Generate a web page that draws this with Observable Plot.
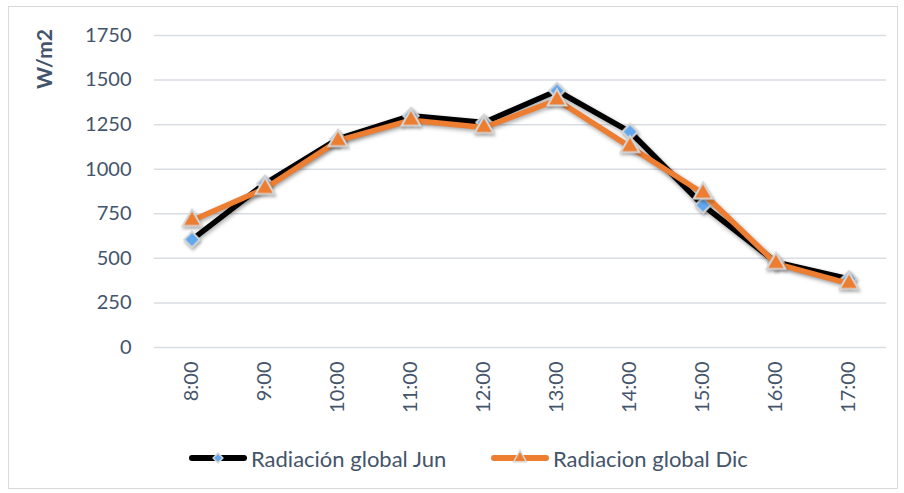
<!DOCTYPE html>
<html>
<head>
<meta charset="utf-8">
<script src="https://cdn.jsdelivr.net/npm/d3@7"></script>
<script src="https://cdn.jsdelivr.net/npm/@observablehq/plot@0.6"></script>
<style>
  html, body { margin: 0; padding: 0; background: #fff; }
  #wrap { position: relative; width: 904px; height: 493px; overflow: hidden; font-family: Lato, "Open Sans", sans-serif; }
  #frame { position: absolute; left: 8px; top: 6px; width: 890px; height: 483px; border: 1.5px solid #d9d9d9; box-sizing: border-box; }
  #chart { position: absolute; left: 0; top: 0; }
  #legend { position: absolute; top: 445px; left: 0; width: 904px; height: 26px; color: #44546a; font-size: 22px; }
  .item { position: absolute; top: 0; display: flex; align-items: center; height: 26px; }
  .item svg { margin-right: 3px; }
</style>
</head>
<body>
<div id="wrap">
  <div id="frame"></div>
  <div id="chart"></div>
  <div id="legend"></div>
</div>
<script>
const hours = ["8:00","9:00","10:00","11:00","12:00","13:00","14:00","15:00","16:00","17:00"];
const jun = [605, 920, 1170, 1300, 1262, 1440, 1210, 798, 478, 385];
const dic = [712, 892, 1160, 1275, 1234, 1388, 1125, 865, 471, 358];
const yTicks = [0, 250, 500, 750, 1000, 1250, 1500, 1750];
const seriesNames = ["Radiación global Jun", "Radiacion global Dic"];

const junData = hours.map((h, i) => ({hour: h, value: jun[i]}));
const dicData = hours.map((h, i) => ({hour: h, value: dic[i]}));

const textColor = "#44546a";
const orange = "#ed7d31";
const blue = "#62a8ee";
const markStroke = "#d6d6d6";

const plot = Plot.plot({
  width: 904,
  height: 430,
  marginLeft: 154,
  marginRight: 18,
  marginTop: 35,
  marginBottom: 83,
  style: {fontFamily: "Lato, 'Open Sans', sans-serif", fontSize: "20px", color: textColor, background: "transparent", overflow: "visible"},
  x: {type: "band", domain: hours, padding: 0, label: null},
  y: {domain: [0, 1750], label: null},
  marks: [
    Plot.gridY(yTicks, {stroke: "#d9dde3", strokeOpacity: 1, strokeWidth: 1.5}),
    Plot.axisY(yTicks, {tickSize: 0, tickPadding: 23, fill: textColor, fontSize: 20, label: null, tickFormat: d => String(d)}),
    Plot.axisX({tickSize: 0, tickRotate: -90, tickPadding: 14, fill: textColor, fontSize: 20, label: null}),
    Plot.line(junData, {x: "hour", y: "value", stroke: "#000", strokeWidth: 5.5, strokeLinejoin: "round", strokeLinecap: "round", className: "shadowed"}),
    Plot.dot(junData, {x: "hour", y: "value", symbol: "diamond2", r: 7, fill: blue, stroke: markStroke, strokeWidth: 2}),
    Plot.line(dicData, {x: "hour", y: "value", stroke: orange, strokeWidth: 5.5, strokeLinejoin: "round", strokeLinecap: "round", className: "shadowed"}),
    Plot.dot(dicData, {x: "hour", y: "value", symbol: "triangle", r: 7, fill: orange, stroke: markStroke, strokeWidth: 2})
  ]
});

d3.select(plot).selectAll(".shadowed").style("filter", "drop-shadow(1.5px 2px 2px rgba(0,0,0,0.35))");
d3.select(plot).selectAll("g[aria-label='dot']").style("filter", "drop-shadow(1px 2px 1.5px rgba(0,0,0,0.3))");

d3.select(plot).append("text")
  .attr("transform", "translate(52,59) rotate(-90)")
  .attr("text-anchor", "middle")
  .attr("fill", textColor)
  .attr("font-weight", "bold")
  .attr("font-size", 21)
  .text("W/m2");

document.getElementById("chart").appendChild(plot);

// legend
const legend = d3.select("#legend");
const items = [
  {name: seriesNames[0], left: 188, line: "#000", symbol: d3.symbolDiamond2, fill: blue, size: 60},
  {name: seriesNames[1], left: 490, line: orange, symbol: d3.symbolTriangle, fill: orange, size: 70}
];
items.forEach(it => {
  const div = legend.append("div").attr("class", "item").style("left", it.left + "px");
  const s = div.append("svg").attr("width", 60).attr("height", 26);
  s.append("line").attr("x1", 4).attr("x2", 56).attr("y1", 13).attr("y2", 13)
    .attr("stroke", it.line).attr("stroke-width", 6).attr("stroke-linecap", "round");
  s.append("path").attr("d", d3.symbol(it.symbol, it.size)()).attr("transform", "translate(30,13)")
    .attr("fill", it.fill).attr("stroke", markStroke).attr("stroke-width", 1.5);
  div.append("span").text(it.name);
});
</script>
</body>
</html>
